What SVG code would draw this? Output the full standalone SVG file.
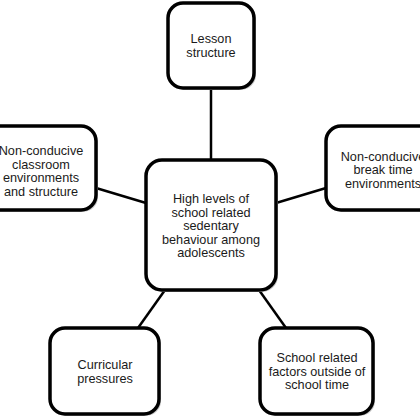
<svg xmlns="http://www.w3.org/2000/svg" width="420" height="420" viewBox="0 0 420 420">
<style>
.box{fill:#fff;stroke:#000;stroke-width:3.5}
.sh{fill:#c8c8c8;stroke:none}
.lbl{font-family:"Liberation Sans",Arial,sans-serif;font-size:12.7px;fill:#1a1a1a;text-anchor:middle}
.con{stroke:#000;stroke-width:2.5;fill:none}
</style>
<rect width="420" height="420" fill="#fff"/>
<g id="connectors">
<line class="con" x1="211" y1="88" x2="211" y2="160"/>
<line class="con" x1="96" y1="188" x2="146" y2="203"/>
<line class="con" x1="276" y1="203" x2="326" y2="188"/>
<line class="con" x1="165" y1="290" x2="138" y2="328"/>
<line class="con" x1="259" y1="290" x2="286" y2="328"/>
</g>
<g id="center">
<rect class="sh" x="148" y="162" width="130" height="130" rx="16"/>
<rect class="box" x="146" y="160" width="130" height="130" rx="16"/>
<text class="lbl" x="211" y="203">High levels of</text>
<text class="lbl" x="211" y="216.5">school related</text>
<text class="lbl" x="211" y="230">sedentary</text>
<text class="lbl" x="211" y="243.5">behaviour among</text>
<text class="lbl" x="211" y="257">adolescents</text>
</g>
<g id="lesson">
<rect class="sh" x="170" y="5" width="86" height="85" rx="15"/>
<rect class="box" x="168" y="3" width="86" height="85" rx="15"/>
<text class="lbl" x="211" y="43">Lesson</text>
<text class="lbl" x="211" y="56.5">structure</text>
</g>
<g id="classroom">
<rect class="sh" x="-20" y="128" width="118" height="84" rx="15"/>
<rect class="box" x="-22" y="126" width="118" height="84" rx="15"/>
<text class="lbl" x="41" y="155">Non-conducive</text>
<text class="lbl" x="41" y="168.5">classroom</text>
<text class="lbl" x="41" y="182">environments</text>
<text class="lbl" x="41" y="195.5">and structure</text>
</g>
<g id="breaktime">
<rect class="sh" x="328" y="128" width="120" height="84" rx="15"/>
<rect class="box" x="326" y="126" width="120" height="84" rx="15"/>
<text class="lbl" x="383" y="160.5">Non-conducive</text>
<text class="lbl" x="383" y="174">break time</text>
<text class="lbl" x="383" y="187.5">environments</text>
</g>
<g id="curricular">
<rect class="sh" x="52" y="330" width="109" height="86" rx="15"/>
<rect class="box" x="50" y="328" width="109" height="86" rx="15"/>
<text class="lbl" x="105" y="369">Curricular</text>
<text class="lbl" x="105" y="382.5">pressures</text>
</g>
<g id="outside">
<rect class="sh" x="262" y="330" width="113" height="86" rx="15"/>
<rect class="box" x="260" y="328" width="113" height="86" rx="15"/>
<text class="lbl" x="317" y="362">School related</text>
<text class="lbl" x="317" y="375.5">factors outside of</text>
<text class="lbl" x="317" y="389">school time</text>
</g>
</svg>
